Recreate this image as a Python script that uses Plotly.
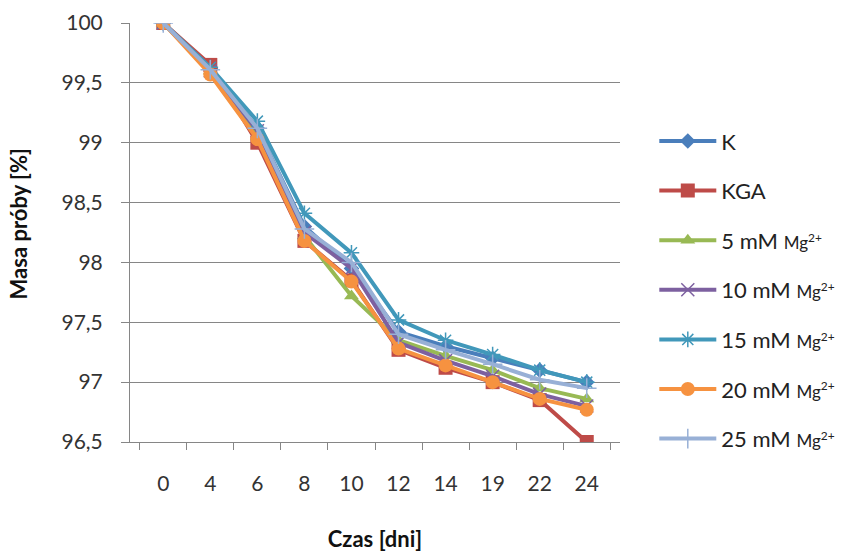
import plotly.graph_objects as go

days = ["0", "4", "6", "8", "10", "12", "14", "19", "22", "24"]

k_vals    = [100, 99.62, 99.12, 98.30, 97.95, 97.42, 97.30, 97.20, 97.10, 97.00]
kga_vals  = [100, 99.65, 99.00, 98.18, 97.85, 97.27, 97.12, 97.00, 96.85, 96.50]
mg5_vals  = [100, 99.60, 99.05, 98.22, 97.72, 97.35, 97.22, 97.10, 96.95, 96.86]
mg10_vals = [100, 99.60, 99.10, 98.25, 97.95, 97.33, 97.18, 97.05, 96.90, 96.80]
mg15_vals = [100, 99.63, 99.18, 98.41, 98.08, 97.52, 97.35, 97.23, 97.10, 97.00]
mg20_vals = [100, 99.57, 99.03, 98.18, 97.84, 97.28, 97.14, 97.00, 96.86, 96.77]
mg25_vals = [100, 99.61, 99.12, 98.28, 98.00, 97.40, 97.27, 97.15, 97.02, 96.95]

mg = "<span style='font-size:17px'>Mg<sup>2+</sup></span>"
names = ["K", "KGA", "5 mM " + mg, "10 mM " + mg, "15 mM " + mg, "20 mM " + mg, "25 mM " + mg]
series = [k_vals, kga_vals, mg5_vals, mg10_vals, mg15_vals, mg20_vals, mg25_vals]
colors = ["#4A7EBB", "#BE4B48", "#98B954", "#7D60A0", "#4198BA", "#F69240", "#98B0D6"]
symbols = ["diamond", "square", "triangle-up", "x-thin", "asterisk", "circle", "cross-thin"]
sizes = [12, 14, 13, 13, 13, 14, 14]

fig = go.Figure()
for i, (nm, vals) in enumerate(zip(names, series)):
    thin = symbols[i] in ("x-thin", "asterisk", "cross-thin")
    fig.add_trace(go.Scatter(
        x=days, y=vals, name=nm, mode="lines+markers",
        line=dict(color=colors[i], width=4),
        marker=dict(symbol=symbols[i], size=sizes[i], color=colors[i],
                    line=dict(color=colors[i], width=1.5 if thin else 0)),
        legendgroup=str(i),
    ))

fig.update_layout(
    width=856, height=552,
    margin=dict(l=130, r=236, t=23, b=110, autoexpand=False),
    paper_bgcolor="white", plot_bgcolor="white",
    separators=", ",
    font=dict(family="Lato, Carlito, sans-serif", size=21, color="#333333"),
    showlegend=True,
    legend=dict(x=1.07, xanchor="left", y=0.768, yanchor="top",
                tracegroupgap=18, itemwidth=57,
                font=dict(size=22, color="#222222"),
                bgcolor="rgba(0,0,0,0)"),
    xaxis=dict(
        type="category", showgrid=False, showline=True, linecolor="#868686", linewidth=1,
        ticks="outside", tickson="boundaries", ticklen=7, tickcolor="#868686",
        ticklabelstandoff=23, automargin=False,
        title=dict(text="<b>Czas [dni]</b>", font=dict(size=22, color="#111111"), standoff=39),
    ),
    yaxis=dict(
        range=[96.5, 100], dtick=0.5, showgrid=True, gridcolor="#868686", gridwidth=1,
        showline=True, linecolor="#868686", linewidth=1,
        ticks="outside", ticklen=8, tickcolor="#868686", ticklabelstandoff=14,
        tickformat=".1~f", zeroline=False, automargin=False,
    ),
    annotations=[dict(text="<b>Masa próby [%]</b>", textangle=-90, xref="paper", yref="paper",
                      x=-0.228, y=0.52, xanchor="center", yanchor="middle", showarrow=False,
                      font=dict(size=22, color="#111111"))],
)

fig.write_html("out.html")
